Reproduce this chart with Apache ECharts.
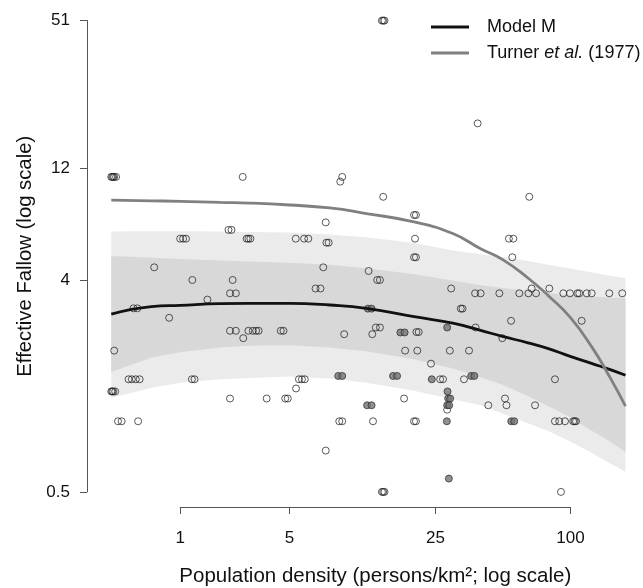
<!DOCTYPE html>
<html>
<head>
<meta charset="utf-8">
<script src="https://cdn.jsdelivr.net/npm/echarts@6/dist/echarts.min.js"></script>
<style>
html, body { margin: 0; padding: 0; background: #fff; }
#main { width: 643px; height: 588px; }
</style>
</head>
<body>
<div id="main"></div>
<script>
// tick labels (original units)
var xTicks = [1, 5, 25, 100];
var yTicks = [0.5, 4, 12, 51];

// open circles: [population density, effective fallow]
var openPts = [
	[14.2, 51], [14.4, 51], [14.6, 51],
	[38.8, 18.6],
	[0, 11], [0.01, 11], [0.02, 11], [0.03, 11], [0.05, 11],
	[2.75, 11], [9.0, 10.5], [9.2, 11],
	[14.4, 9.05], [65.9, 9.05],
	[20.0, 7.57], [20.4, 7.57],
	[7.64, 7.04],
	[2.25, 6.54], [2.35, 6.54],
	[1.0, 6.0], [1.06, 6.0], [1.12, 6.0],
	[2.9, 6.0], [2.97, 6.0], [3.05, 6.0],
	[5.39, 6.0], [5.95, 6.0], [6.25, 6.0],
	[20.2, 6.0], [53.5, 6.0], [56, 6.0],
	[7.7, 5.77], [7.9, 5.77],
	[20.0, 5.0], [20.4, 5.0], [55.4, 5.0],
	[0.54, 4.53], [7.43, 4.53], [12.3, 4.37],
	[1.26, 4.0], [2.39, 4.0], [13.5, 4.0], [13.9, 4.0],
	[6.8, 3.68], [7.2, 3.68], [29.5, 3.68], [67.5, 3.68], [80.8, 3.68],
	[2.3, 3.51], [2.5, 3.51], [37.8, 3.51], [40.0, 3.51], [48.5, 3.51], [59.5, 3.51],
	[65.3, 3.51], [70.6, 3.51], [93.2, 3.51], [99.7, 3.51], [107.5, 3.51], [109.5, 3.51],
	[118.2, 3.51], [124.3, 3.51], [148.6, 3.51], [169.4, 3.51],
	[1.63, 3.30],
	[0.25, 3.03], [0.3, 3.03],
	[32.6, 3.02], [33.2, 3.02],
	[0.79, 2.76],
	[54.7, 2.68], [112.3, 2.68],
	[38.0, 2.51], [13.3, 2.51], [13.9, 2.51],
	[2.3, 2.43], [2.5, 2.43], [2.97, 2.43], [3.15, 2.43], [3.29, 2.43], [3.4, 2.43],
	[4.5, 2.43], [4.65, 2.43],
	[20.5, 2.40], [21.0, 2.40],
	[2.77, 2.26], [9.4, 2.35], [12.8, 2.35], [50.0, 2.26],
	[0.03, 2.0], [18.2, 2.0], [20.7, 2.0], [29.1, 2.0], [35.5, 2.0],
	[23.9, 1.76],
	[0.19, 1.51], [0.23, 1.51], [0.28, 1.51], [0.33, 1.51], [1.25, 1.51], [1.31, 1.51],
	[5.6, 1.51], [5.8, 1.51], [6.0, 1.51], [26.3, 1.51], [27.1, 1.51], [33.7, 1.51], [85.6, 1.51],
	[5.41, 1.38],
	[0, 1.34], [0.01, 1.34], [0.02, 1.34], [0.04, 1.34],
	[2.3, 1.25], [3.77, 1.25], [4.75, 1.25], [4.9, 1.25], [18.0, 1.25], [51.4, 1.25],
	[43.3, 1.17], [52.2, 1.17], [69.9, 1.17],
	[28.3, 1.12],
	[0.07, 1.0], [0.11, 1.0], [0.31, 1.0], [8.9, 1.0], [9.2, 1.0], [12.9, 1.0],
	[20.0, 1.0], [20.4, 1.0], [85.6, 1.0], [89.4, 1.0], [94.8, 1.0],
	[103, 1.0], [104.5, 1.0], [106, 1.0],
	[7.64, 0.75],
	[14.2, 0.5], [14.4, 0.5], [14.6, 0.5], [91.0, 0.5]
];

// grey filled circles
var grayPts = [
	[12.2, 3.02], [12.7, 3.02],
	[17.3, 2.39], [18.1, 2.39],
	[28.3, 2.51],
	[8.8, 1.56], [9.2, 1.56],
	[16.0, 1.56], [16.7, 1.56],
	[24.1, 1.51],
	[36.3, 1.56], [37.5, 1.56],
	[28.4, 1.34],
	[28.6, 1.25], [29.2, 1.25],
	[28.3, 1.17], [28.9, 1.17],
	[12.1, 1.17], [12.7, 1.17],
	[28.2, 1.0],
	[28.8, 0.57],
	[54.8, 1.0], [56.5, 1.0]
];

// curves and bands, read at these densities
var curveX  = [0, 0.5, 1, 2, 3, 5, 8, 12, 20, 30, 40, 50, 65, 80, 100, 125, 150, 175];
var modelM  = [2.86, 3.08, 3.12, 3.17, 3.18, 3.18, 3.13, 3.03, 2.79, 2.62, 2.44, 2.30, 2.16, 2.04, 1.89, 1.76, 1.66, 1.57];
var turner  = [8.76, 8.70, 8.66, 8.56, 8.51, 8.35, 8.11, 7.68, 7.07, 6.31, 5.44, 4.90, 4.08, 3.43, 2.77, 2.06, 1.53, 1.16];
var outerHi = [6.44, 6.45, 6.46, 6.44, 6.40, 6.37, 6.25, 6.08, 5.75, 5.34, 5.15, 5.01, 4.82, 4.65, 4.48, 4.31, 4.17, 4.07];
var innerHi = [5.06, 4.97, 4.92, 4.84, 4.80, 4.74, 4.65, 4.49, 4.23, 3.98, 3.80, 3.70, 3.60, 3.52, 3.45, 3.40, 3.36, 3.34];
var innerLo = [1.62, 1.87, 1.97, 2.06, 2.10, 2.11, 2.06, 1.99, 1.84, 1.68, 1.54, 1.43, 1.28, 1.16, 1.04, 0.91, 0.82, 0.74];
var outerLo = [1.26, 1.39, 1.46, 1.51, 1.53, 1.55, 1.52, 1.46, 1.35, 1.24, 1.17, 1.08, 0.98, 0.91, 0.82, 0.73, 0.66, 0.61];

// axes are log(x+1) and log(y)
function tx(x) { return Math.log10(x + 1); }
function ty(y) { return Math.log10(y); }
function pts(arr) { return arr.map(function (p) { return [tx(p[0]), ty(p[1])]; }); }
function curve(ys) { return curveX.map(function (x, i) { return [tx(x), ty(ys[i])]; }); }
function nearest(ticks, f, v) {
	var best = ticks[0];
	ticks.forEach(function (t) { if (Math.abs(f(t) - v) < Math.abs(f(best) - v)) best = t; });
	return String(best);
}

function bandPolygon(hi, lo) {
	return function (params, api) {
		var p = [];
		for (var i = 0; i < curveX.length; i++) p.push(api.coord([tx(curveX[i]), ty(hi[i])]));
		for (var j = curveX.length - 1; j >= 0; j--) p.push(api.coord([tx(curveX[j]), ty(lo[j])]));
		return { type: 'polygon', shape: { points: p, smooth: 0 }, style: api.style() };
	};
}

var font = 'Liberation Sans, Arial, sans-serif';
var axisCol = '#555';

var chart = echarts.init(document.getElementById('main'));
chart.setOption({
	animation: false,
	backgroundColor: '#fff',
	textStyle: { fontFamily: font },
	legend: {
		orient: 'vertical',
		left: 431, top: 18, padding: 0,
		icon: 'rect',
		itemWidth: 38, itemHeight: 3, itemGap: 8,
		data: ['Model M', 'Turner et al. (1977)'],
		formatter: function (name) { return '{g|}' + name.replace('et al.', '{i|et al.}'); },
		textStyle: {
			fontSize: 18, color: '#111', fontFamily: font,
			rich: { g: { width: 13 }, i: { fontStyle: 'italic', fontSize: 18, color: '#111', fontFamily: font } }
		}
	},
	grid: [
		{ left: 87, top: 20.6, width: 553, height: 471.3 },
		{ left: 180.2, top: 480, width: 390.2, height: 31 }
	],
	xAxis: [
		{ gridIndex: 0, type: 'value', min: -0.10596, max: 2.30889, show: false },
		{
			gridIndex: 1, type: 'value', min: tx(xTicks[0]), max: tx(xTicks[xTicks.length - 1]),
			axisLine: { show: true, onZero: false, lineStyle: { color: axisCol, width: 1 } },
			axisTick: { show: true, length: 7, lineStyle: { color: axisCol }, customValues: xTicks.map(tx) },
			axisLabel: {
				customValues: xTicks.map(tx), margin: 23, fontSize: 17, color: '#111',
				formatter: function (v) { return nearest(xTicks, tx, v); }
			},
			splitLine: { show: false },
			name: 'Population density (persons/km\u00b2; log scale)',
			nameLocation: 'middle', nameGap: 59,
			nameTextStyle: { fontSize: 20.5, color: '#111' }
		}
	],
	yAxis: [
		{
			gridIndex: 0, type: 'value', min: ty(yTicks[0]), max: ty(yTicks[yTicks.length - 1]),
			axisLine: { show: true, onZero: false, lineStyle: { color: axisCol, width: 1 } },
			axisTick: { show: true, length: 7, lineStyle: { color: axisCol }, customValues: yTicks.map(ty) },
			axisLabel: {
				customValues: yTicks.map(ty), margin: 17, fontSize: 17, color: '#111',
				formatter: function (v) { return nearest(yTicks, ty, v); }
			},
			splitLine: { show: false },
			name: 'Effective Fallow (log scale)',
			nameLocation: 'middle', nameGap: 35,
			nameTextStyle: { fontSize: 20.3, color: '#111' }
		},
		{ gridIndex: 1, type: 'value', show: false }
	],
	series: [
		{
			type: 'custom', name: 'outer band', xAxisIndex: 0, yAxisIndex: 0, z: 1, silent: true,
			renderItem: bandPolygon(outerHi, outerLo), data: [[0, 0]],
			itemStyle: { color: '#ebebeb' }
		},
		{
			type: 'custom', name: 'inner band', xAxisIndex: 0, yAxisIndex: 0, z: 1, silent: true,
			renderItem: bandPolygon(innerHi, innerLo), data: [[0, 0]],
			itemStyle: { color: '#d8d8d8' }
		},
		{
			type: 'scatter', name: 'open', z: 3, clip: false,
			symbol: 'circle', symbolSize: 7,
			itemStyle: { color: 'rgba(0,0,0,0)', borderColor: '#1a1a1a', borderWidth: 0.9 },
			data: pts(openPts)
		},
		{
			type: 'scatter', name: 'grey', z: 3, clip: false,
			symbol: 'circle', symbolSize: 7,
			itemStyle: { color: '#747474', borderColor: '#2a2a2a', borderWidth: 0.9 },
			data: pts(grayPts)
		},
		{
			type: 'line', name: 'Model M', z: 4, symbol: 'none', smooth: true,
			lineStyle: { color: '#111', width: 2.8 }, itemStyle: { color: '#111' },
			data: curve(modelM)
		},
		{
			type: 'line', name: 'Turner et al. (1977)', z: 4, symbol: 'none', smooth: true,
			lineStyle: { color: '#808080', width: 2.8 }, itemStyle: { color: '#808080' },
			data: curve(turner)
		}
	]
});
</script>
</body>
</html>
